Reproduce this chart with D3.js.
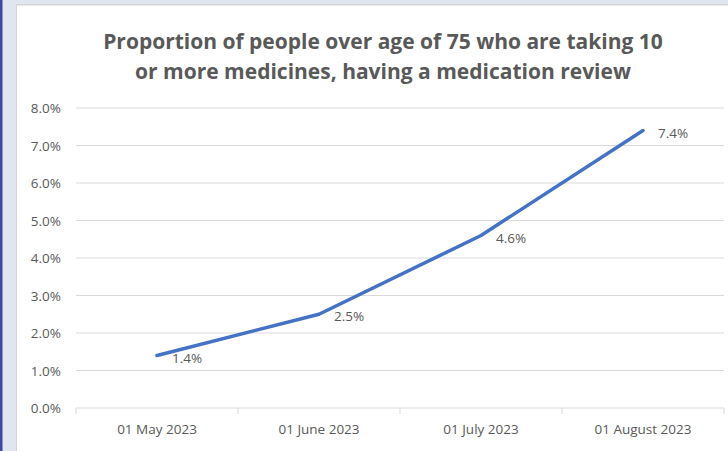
<!DOCTYPE html>
<html>
<head>
<meta charset="utf-8">
<script src="https://cdn.jsdelivr.net/npm/d3@7"></script>
<style>
  body { margin: 0; background: #dfe6ef; }
  svg { display: block; }
  text { font-family: "Open Sans", "Liberation Sans", sans-serif; fill: #595959; }
</style>
</head>
<body>
<svg id="chart" width="728" height="451"></svg>
<script>
const categories = ['01 May 2023', '01 June 2023', '01 July 2023', '01 August 2023'];
const values = [0.014, 0.025, 0.046, 0.074];
const labels = ['1.4%', '2.5%', '4.6%', '7.4%'];
const yTicks = [0, 0.01, 0.02, 0.03, 0.04, 0.05, 0.06, 0.07, 0.08];
const titleLines = ['Proportion of people over age of 75 who are taking 10', 'or more medicines, having a medication review'];

const svg = d3.select('#chart');

// frame: dark edge on the left, pale strip, then the white chart area
svg.append('rect').attr('x', 0).attr('y', 0).attr('width', 728).attr('height', 451).attr('fill', '#dfe6ef');
svg.append('rect').attr('x', 0).attr('y', 0).attr('width', 2.5).attr('height', 451).attr('fill', '#3b4a9e');
svg.append('rect').attr('x', 16).attr('y', 4).attr('width', 712).attr('height', 447).attr('fill', '#d4d4d4');
svg.append('rect').attr('x', 17).attr('y', 5.5).attr('width', 711).attr('height', 446).attr('fill', '#ffffff');

const x = d3.scaleBand().domain(categories).range([76, 724]);
const y = d3.scaleLinear().domain([0, 0.08]).range([408, 108]);

// title
svg.append('g').selectAll('text').data(titleLines).enter().append('text')
  .attr('x', 383).attr('y', (d, i) => 49 + i * 30)
  .attr('text-anchor', 'middle')
  .style('font-size', '21px').style('font-weight', 'bold')
  .text(d => d);

// gridlines
svg.append('g').selectAll('line').data(yTicks.slice(1)).enter().append('line')
  .attr('x1', 76).attr('x2', 724)
  .attr('y1', d => y(d)).attr('y2', d => y(d))
  .attr('stroke', '#d9d9d9').attr('stroke-width', 1);

// y axis labels
svg.append('g').selectAll('text').data(yTicks).enter().append('text')
  .attr('x', 61).attr('y', d => y(d) + 5)
  .attr('text-anchor', 'end')
  .style('font-size', '13.5px')
  .text(d => d3.format('.1%')(d));

// x axis
const xAxis = svg.append('g').attr('transform', 'translate(0,408)')
  .call(d3.axisBottom(x).tickSize(0).tickPadding(16));
xAxis.select('.domain').remove();
xAxis.selectAll('text').style('font-size', '13.5px').attr('fill', '#595959');
xAxis.append('line').attr('x1', 76).attr('x2', 724).attr('stroke', '#d9d9d9');
xAxis.selectAll('.sep').data(d3.range(categories.length + 1)).enter().append('line')
  .attr('class', 'sep')
  .attr('x1', i => 76 + i * x.bandwidth()).attr('x2', i => 76 + i * x.bandwidth())
  .attr('y1', 0).attr('y2', 6)
  .attr('stroke', '#d9d9d9');

// line
const pts = categories.map((c, i) => ({ c: c, v: values[i], l: labels[i] }));
svg.append('path').datum(pts)
  .attr('d', d3.line().x(d => x(d.c) + x.bandwidth() / 2).y(d => y(d.v)))
  .attr('fill', 'none').attr('stroke', '#4472c4').attr('stroke-width', 3.5)
  .attr('stroke-linecap', 'round').attr('stroke-linejoin', 'round');

// data labels, to the right of each point
svg.append('g').selectAll('text').data(pts).enter().append('text')
  .attr('x', d => x(d.c) + x.bandwidth() / 2 + 15)
  .attr('y', d => y(d.v) + 7)
  .style('font-size', '13.5px')
  .text(d => d.l);
</script>
</body>
</html>
